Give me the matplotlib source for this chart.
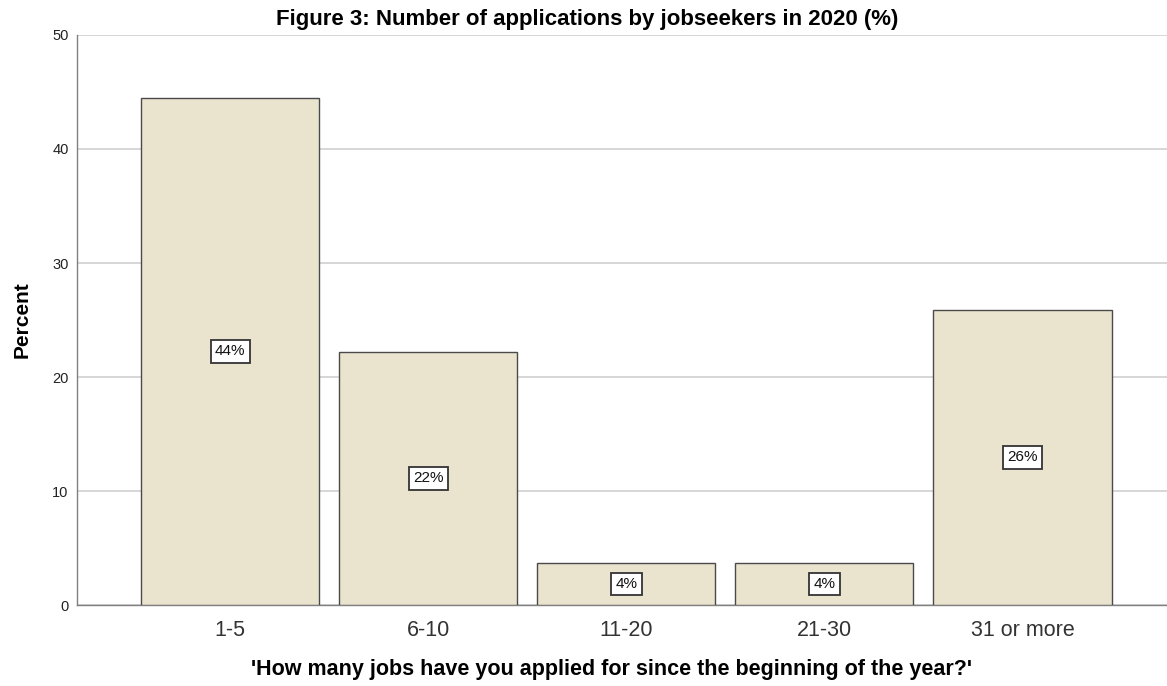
import matplotlib
matplotlib.use("Agg")
import matplotlib.pyplot as plt

# --- Data ---
categories = ["1-5", "6-10", "11-20", "21-30", "31 or more"]
percents = [44.5, 22.2, 3.7, 3.7, 25.9]
value_labels = ["44%", "22%", "4%", "4%", "26%"]

bar_color = "#eae4cf"
edge_color = "#4a4a4a"

plt.rcParams["font.family"] = ["Liberation Sans", "DejaVu Sans"]

fig = plt.figure(figsize=(11.67, 6.86), dpi=100)
ax = fig.add_axes([0.066, 0.118, 0.934, 0.831])

x = range(len(categories))
ax.bar(x, percents, width=0.9, color=bar_color, edgecolor=edge_color,
       linewidth=1.0, zorder=3)

# value boxes in the middle of each bar
for xi, v, lab in zip(x, percents, value_labels):
    ax.text(xi, v / 2, lab, ha="center", va="center",
            fontsize=11, zorder=4, color="#111111",
            bbox=dict(boxstyle="square,pad=0.28", facecolor="white",
                      edgecolor="#333333", linewidth=1.3))

ax.set_xlim(-0.773, 4.73)
ax.set_ylim(0, 50)
ax.set_yticks(range(0, 51, 10))
ax.set_xticks(list(x))
ax.set_xticklabels(categories, fontsize=15.5, color="#333333")
ax.tick_params(axis="y", labelsize=10.5, length=0, pad=6, colors="#222222")
ax.tick_params(axis="x", length=0, pad=11)

ax.yaxis.grid(True, color="#cfcfcf", linewidth=1.2, zorder=0)
for side in ("top", "right"):
    ax.spines[side].set_visible(False)
for side in ("left", "bottom"):
    ax.spines[side].set_color("#808080")
    ax.spines[side].set_linewidth(1.0)

ax.set_ylabel("Percent", fontsize=15, fontweight="bold", labelpad=15)
ax.set_xlabel("'How many jobs have you applied for since the beginning of the year?'",
              fontsize=15.5, fontweight="bold")
ax.xaxis.set_label_coords(0.490, -0.094)
fig.text(0.5034, 0.972, "Figure 3: Number of applications by jobseekers in 2020 (%)",
         fontsize=16, fontweight="bold", ha="center", va="center")

fig.savefig("out.png", dpi=100)
